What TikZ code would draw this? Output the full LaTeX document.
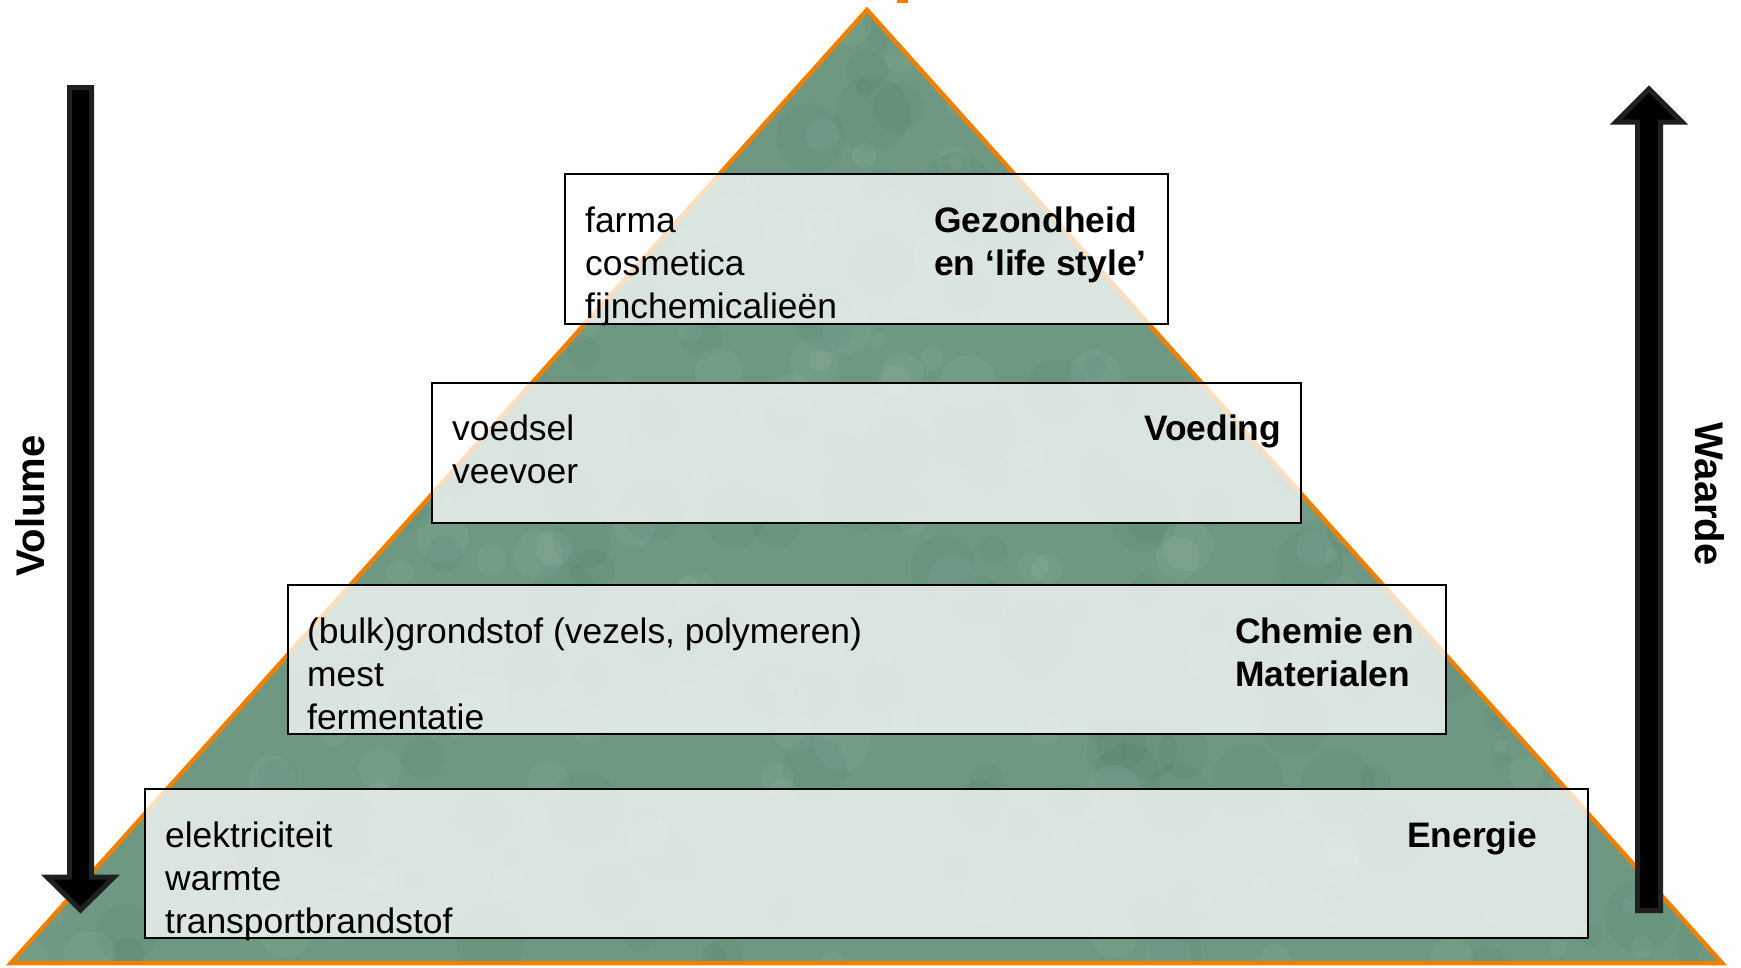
\documentclass[tikz,border=0pt]{standalone}
\usepackage{fontspec}
\setmainfont{Liberation Sans}
\definecolor{pyrorange}{RGB}{238,128,0}
\definecolor{pyrgreen}{RGB}{110,152,130}
\definecolor{pyrdark}{RGB}{70,115,92}
\definecolor{pyrlight}{RGB}{170,205,185}
\definecolor{arrowedge}{RGB}{32,32,32}
\newcommand\txtlines[1]{\vtop{\baselineskip=43pt\lineskiplimit=-100pt #1}}
\tikzset{
  layerbox/.style={draw=black, line width=1.6pt, fill=white, fill opacity=0.75, text opacity=1, inner sep=0pt, rectangle},
  itemtext/.style={anchor=base west, inner sep=0pt, font=\fontsize{35.4}{43}\selectfont},
  headtext/.style={anchor=base west, inner sep=0pt, font=\fontsize{35.4}{43}\selectfont\bfseries},
  sidelabel/.style={anchor=base, inner sep=0pt, font=\fontsize{40}{48}\selectfont\bfseries},
  bigarrow/.style={fill=black, draw=arrowedge, line width=5pt, line join=miter}
}
\begin{document}
\begin{tikzpicture}[x=1pt,y=-1pt]
\useasboundingbox (0,0) rectangle (1741,967);
% pyramid
\coordinate (apex) at (867,10);
\coordinate (bl) at (11,963);
\coordinate (br) at (1722,963);
\fill[pyrgreen] (apex) -- (bl) -- (br) -- cycle;
\begin{scope}
  \clip (apex) -- (bl) -- (br) -- cycle;
  \pgfmathsetseed{11}
  \foreach \i in {1,...,260} {
    \pgfmathsetmacro\xx{rnd*1741}
    \pgfmathsetmacro\yy{rnd*967}
    \pgfmathsetmacro\rr{8+rnd*30}
    \fill[pyrdark, opacity=0.10] (\xx,\yy) circle[radius=\rr];
  }
  \foreach \i in {1,...,260} {
    \pgfmathsetmacro\xx{rnd*1741}
    \pgfmathsetmacro\yy{rnd*967}
    \pgfmathsetmacro\rr{6+rnd*22}
    \fill[pyrlight, opacity=0.10] (\xx,\yy) circle[radius=\rr];
  }
\end{scope}
\draw[draw=pyrorange, line width=4.5pt, line join=miter] (apex) -- (bl) -- (br) -- cycle;
\fill[pyrorange] (897,0) rectangle (908,2.5);
% arrows
\filldraw[bigarrow] (69.5,87.5) -- (91.5,87.5) -- (91.5,877) -- (114,877) -- (80.5,910) -- (47,877) -- (69.5,877) -- cycle;
\filldraw[bigarrow] (1637.5,910.5) -- (1660.5,910.5) -- (1660.5,122) -- (1682,122) -- (1649,89) -- (1616,122) -- (1637.5,122) -- cycle;
\node[sidelabel, rotate=90] (volume) at (44,506) {Volume};
\node[sidelabel, rotate=-90] (waarde) at (1695,494) {Waarde};
% layer boxes
\node[layerbox, minimum width=603pt, minimum height=150pt] (b1) at (866.5,249) {};
\node[layerbox, minimum width=869pt, minimum height=140pt] (b2) at (866.5,453) {};
\node[layerbox, minimum width=1158pt, minimum height=149pt] (b3) at (867,659.5) {};
\node[layerbox, minimum width=1443pt, minimum height=149pt] (b4) at (866.5,863.5) {};
% texts
\node[itemtext] (t1) at (585,232) {\txtlines{\hbox{farma}\hbox{cosmetica}\hbox{fijnchemicalieën}}};
\node[headtext] (h1) at (934,232) {\txtlines{\hbox{Gezondheid}\hbox{en ‘life style’}}};
\node[itemtext] (t2) at (452,440) {\txtlines{\hbox{voedsel}\hbox{veevoer}}};
\node[headtext] (h2) at (1144,440) {Voeding};
\node[itemtext] (t3) at (307,643) {\txtlines{\hbox{(bulk)grondstof (vezels, polymeren)}\hbox{mest}\hbox{fermentatie}}};
\node[headtext] (h3) at (1235,643) {\txtlines{\hbox{Chemie en}\hbox{Materialen}}};
\node[itemtext] (t4) at (165,847) {\txtlines{\hbox{elektriciteit}\hbox{warmte}\hbox{transportbrandstof}}};
\node[headtext] (h4) at (1407,847) {Energie};
\end{tikzpicture}
\end{document}
